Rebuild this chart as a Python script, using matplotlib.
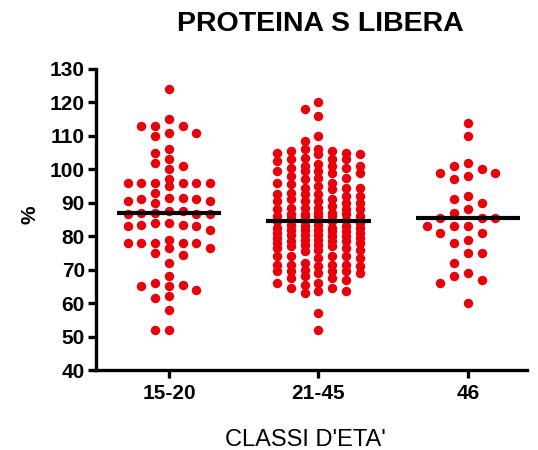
import numpy as np
import matplotlib
matplotlib.use('Agg')
import matplotlib.pyplot as plt

categories = ['15-20', '21-45', '46']

g_15_20 = [124, 115, 113, 113, 113, 111, 111, 110, 106, 105, 103, 102, 101, 100, 97,
           96, 96, 95, 96, 96, 96, 96, 93, 91.5, 91, 90.5, 90, 90.5, 91, 91.5,
           87, 87.5, 86.5, 87.5, 86.5, 87, 86.5, 83, 84, 83.5, 82, 83.5, 83, 84,
           78, 76.5, 78, 78, 78, 78, 76.5, 79, 74.5, 75, 72, 68, 65.5, 65, 65, 64, 66,
           61.5, 62, 58, 52, 52]

g_21_45 = [120, 118, 116, 110, 108.5, 106, 106,
           105, 104.5, 105.5, 105, 105.5, 104.5,
           103, 103.5, 103, 102.5, 103,
           101, 101.5, 101, 100.5, 101, 100.5,
           99.5, 99, 99.5, 99, 99.5,
           97.5, 98, 97, 97.5,
           96, 96, 95.5,
           94.5, 94.5, 94, 95, 94.5,
           92.5, 92, 92.5, 93, 92.5, 92,
           90.5, 91, 90.5, 90, 90.5, 91, 90,
           88.5, 88, 88.5, 89, 88, 88.5, 88,
           86.5, 86, 87, 86.5, 86, 87, 86.5, 86,
           84.5, 86, 85, 84.5, 86, 85, 84.5, 84, 85.5, 83.5,
           82.5, 82, 83, 82.5, 82, 83, 82.5, 82, 81.5, 83.5,
           80.5, 80, 81, 80.5, 80, 81, 80.5, 79.5, 81.5,
           78.5, 78, 79, 78.5, 78, 79, 78.5, 77.5, 79.5,
           76.5, 76, 77, 76.5, 76, 77, 75.5, 77.5,
           74, 74, 73.5, 74, 74, 73.5,
           71.5, 71, 71.5, 72, 71.5, 71, 71.5,
           69.5, 69, 69.5, 70, 69.5, 69, 69.5,
           67.5, 67, 67.5, 68,
           66, 66, 65.5,
           64.5, 64.5,
           63.5, 63, 63.5,
           57, 52]

g_46 = [114, 110, 102, 100, 99, 97, 98, 99, 101, 92, 90, 91, 88, 87, 85.5, 85.5, 85.5,
        81, 83, 83, 83, 81, 79, 78, 75, 75, 72, 69, 67, 68, 66, 60]

groups = [g_15_20, g_21_45, g_46]
y_ticks = [40, 50, 60, 70, 80, 90, 100, 110, 120, 130]

plt.rcParams['font.family'] = ['Liberation Sans', 'DejaVu Sans']

fig = plt.figure(figsize=(5.38, 4.5), dpi=100)
ax = fig.add_axes([96 / 538, 80 / 450, (527 - 96) / 538, (370 - 69) / 450])


def column_layout(vals, ncols=7, step=0.092, sep=2.5):
    vals = np.asarray(vals, dtype=float)
    half = ncols // 2
    prefs = [0]
    for k in range(1, half + 1):
        prefs += [-k, k]
    placed = {c: [] for c in prefs}
    offs = np.zeros(len(vals))
    for i in np.argsort(-vals, kind='stable'):
        v = vals[i]
        best, bestd = None, -1.0
        chosen = None
        for c in prefs:
            d = min(abs(v - p) for p in placed[c]) if placed[c] else np.inf
            if d >= sep:
                chosen = c
                break
            if d > bestd:
                bestd, best = d, c
        if chosen is None:
            chosen = best
        placed[chosen].append(v)
        offs[i] = chosen * step
    return offs


seps = [2.8, 2.5, 4.0]
red = '#e8000b'
for i, vals in enumerate(groups):
    offs = column_layout(vals, sep=seps[i])
    ax.plot(i + offs, vals, 'o', color=red, markersize=6.8, markeredgewidth=0,
            linestyle='none', zorder=2)
    med = np.median(vals)
    ax.plot([i - 0.35, i + 0.35], [med, med], color='black', linewidth=3.0,
            solid_capstyle='butt', zorder=3)

ax.set_xlim(-0.488, 2.395)
ax.set_ylim(40, 130)
ax.set_yticks(y_ticks)
ax.set_xticks(range(len(categories)))
ax.set_xticklabels(categories)

for s in ['top', 'right']:
    ax.spines[s].set_visible(False)
for s in ['left', 'bottom']:
    ax.spines[s].set_linewidth(2.4)
ax.tick_params(axis='both', which='major', length=6, width=2.4,
               labelsize=15, pad=2)
ax.tick_params(axis='x', pad=4)
for lab in ax.get_xticklabels() + ax.get_yticklabels():
    lab.set_fontweight('bold')

fig.text(320 / 538, 1 - 24 / 450, 'PROTEINA S LIBERA', ha='center', va='center',
         fontsize=20.5, fontweight='bold')
fig.text(305 / 538, 1 - 440 / 450, "CLASSI D'ETA'", ha='center', va='center',
         fontsize=17)
fig.text(30 / 538, 1 - 215 / 450, '%', ha='center', va='center', rotation=90,
         fontsize=15, fontweight='bold')

fig.savefig('out.png', dpi=100)
